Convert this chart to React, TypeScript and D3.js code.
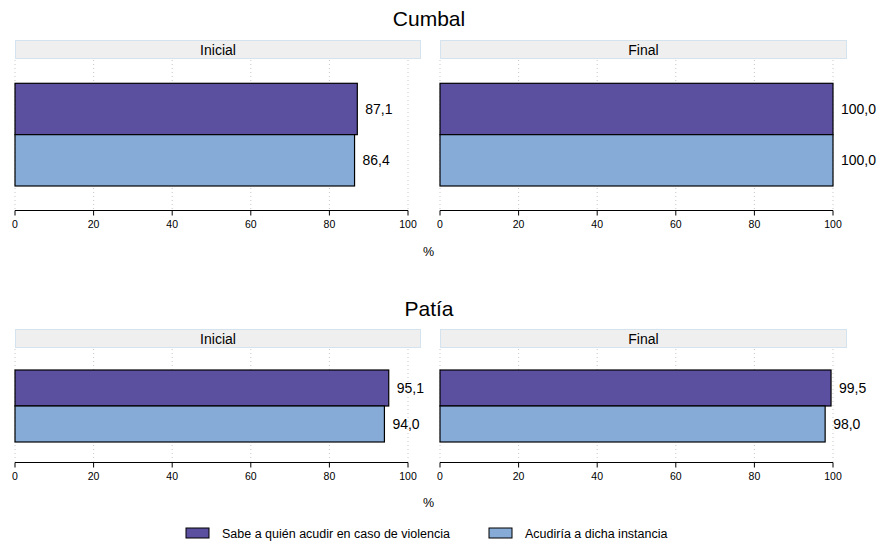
import React from "react";
import * as d3 from "d3";

const sections = ["Cumbal", "Patía"];
const periods = ["Inicial", "Final"];
const seriesNames = ["Sabe a quién acudir en caso de violencia", "Acudiría a dicha instancia"];
// values[section][period][series]
const cumbalInicial = [87.1, 86.4];
const cumbalFinal = [100.0, 100.0];
const patiaInicial = [95.1, 94.0];
const patiaFinal = [99.5, 98.0];
const values = [
  [cumbalInicial, cumbalFinal],
  [patiaInicial, patiaFinal],
];
const xTicks = [0, 20, 40, 60, 80, 100];
const axisTitle = "%";

const colors = ["#5b4fa0", "#86abd6"];
const FONT = "'Liberation Sans', Arial, Helvetica, sans-serif";

const fmt = d3.formatLocale({ decimal: ",", thousands: ".", grouping: [3], currency: ["", ""] }).format(".1f");

const W = 882;
const H = 543;

const panelsX = [
  { left: 15, zeroX: 15, hundredX: 408, right: 421 },
  { left: 440, zeroX: 440, hundredX: 833, right: 847 },
];

const layout = [
  { titleY: 26, stripTop: 40, stripBottom: 59, barTop: 83.3, barBottom: 186, axisY: 210.5, pctY: 255.5 },
  { titleY: 316, stripTop: 329, stripBottom: 348, barTop: 370, barBottom: 442, axisY: 462.5, pctY: 507 },
];

export default function App() {
  return (
    <svg width={W} height={H} style={{ position: "absolute", left: 0, top: 0, background: "#fff" }} fontFamily={FONT}>
      <rect x={0} y={0} width={W} height={H} fill="#fff" />
      {sections.map((sec, si) => {
        const L = layout[si];
        const y = d3.scaleBand<number>().domain([0, 1]).range([L.barTop, L.barBottom]).padding(0);
        return (
          <g key={sec}>
            <text x={429} y={L.titleY} textAnchor="middle" fontSize={21} fill="#000">{sec}</text>
            {periods.map((p, pi) => {
              const P = panelsX[pi];
              const x = d3.scaleLinear().domain([0, 100]).range([P.zeroX, P.hundredX]);
              const vals = values[si][pi];
              return (
                <g key={p}>
                  <rect x={P.left + 0.5} y={L.stripTop + 0.5} width={P.right - P.left - 1} height={L.stripBottom - L.stripTop - 1} fill="#efefef" stroke="#d5e3ee" strokeWidth={1} />
                  <text x={(P.left + P.right) / 2} y={(L.stripTop + L.stripBottom) / 2 + 5} textAnchor="middle" fontSize={14} fill="#000">{p}</text>
                  {xTicks.map((t) => (
                    <line key={t} x1={x(t)} x2={x(t)} y1={L.stripBottom + 1} y2={L.axisY - 1} stroke="#c8c8c8" strokeWidth={1} strokeDasharray="1,3" />
                  ))}
                  {vals.map((v, k) => (
                    <g key={k}>
                      <rect x={x(0)} y={y(k)} width={x(v) - x(0)} height={y.bandwidth()} fill={colors[k]} stroke="#000" strokeWidth={1.2} />
                      <text x={x(v) + 8} y={y(k)! + y.bandwidth() / 2 + 5} fontSize={14} fill="#000">{fmt(v)}</text>
                    </g>
                  ))}
                  <line x1={x(0)} x2={x(100)} y1={L.axisY} y2={L.axisY} stroke="#000" strokeWidth={1} />
                  {xTicks.map((t) => (
                    <g key={"t" + t}>
                      <line x1={x(t)} x2={x(t)} y1={L.axisY} y2={L.axisY + 5} stroke="#000" strokeWidth={1} />
                      <text x={x(t)} y={L.axisY + 17} textAnchor="middle" fontSize={10.5} fill="#000">{t}</text>
                    </g>
                  ))}
                </g>
              );
            })}
            <text x={428.5} y={L.pctY} textAnchor="middle" fontSize={12.5} fill="#000">{axisTitle}</text>
          </g>
        );
      })}
      {seriesNames.map((s, k) => {
        const bx = [186, 489][k];
        return (
          <g key={s}>
            <rect x={bx} y={528} width={23} height={10} fill={colors[k]} stroke="#000" strokeWidth={1} />
            <text x={bx + 36} y={538} fontSize={12.5} fill="#000">{s}</text>
          </g>
        );
      })}
    </svg>
  );
}
